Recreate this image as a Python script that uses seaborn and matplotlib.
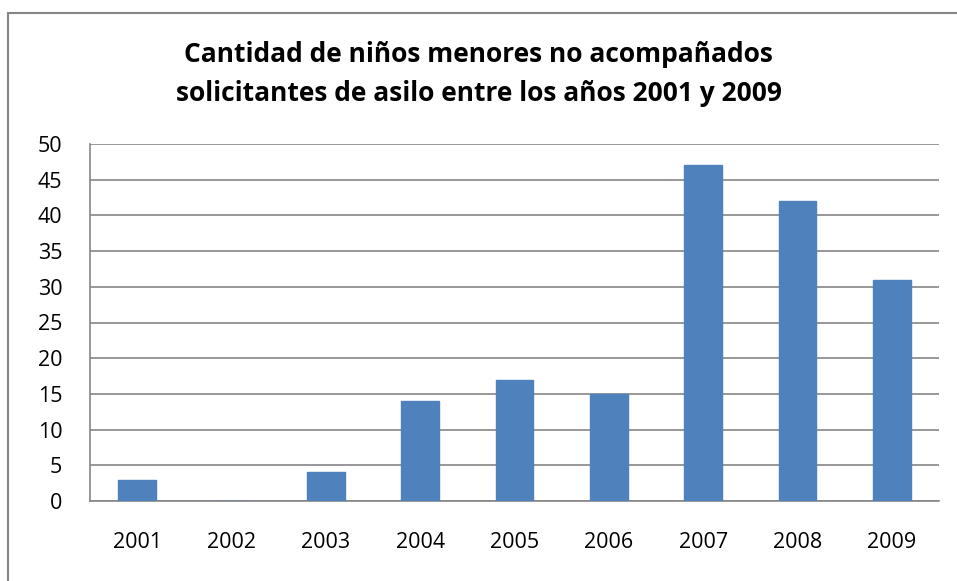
import matplotlib
matplotlib.use("Agg")
import matplotlib.pyplot as plt
import seaborn as sns
import pandas as pd
from matplotlib.lines import Line2D

years = ["2001", "2002", "2003", "2004", "2005", "2006", "2007", "2008", "2009"]
counts = [3, 0, 4, 14, 17, 15, 47, 42, 31]
yticks = [0, 5, 10, 15, 20, 25, 30, 35, 40, 45, 50]
title = "Cantidad de niños menores no acompañados\nsolicitantes de asilo entre los años 2001 y 2009"

df = pd.DataFrame({"year": years, "count": counts})

sns.set_style("white")
plt.rcParams["font.family"] = ["Open Sans", "DejaVu Sans"]
plt.rcParams["text.color"] = "black"
plt.rcParams["xtick.color"] = "black"
plt.rcParams["ytick.color"] = "black"

fig = plt.figure(figsize=(9.57, 5.81), dpi=100)
ax = fig.add_axes([90/957, 1-501/581, (939-90)/957, (501-144)/581])

grid_c = "#868686"
sns.barplot(data=df, x="year", y="count", color="#4F81BD", saturation=1,
            width=0.4, ax=ax, zorder=3, edgecolor="#4F81BD")

ax.set_ylim(0, 50)
ax.set_xlim(-0.5, len(years) - 0.5)
ax.set_yticks(yticks)
ax.set_yticklabels([str(v) for v in yticks], fontsize=15.5)
ax.yaxis.grid(True, color=grid_c, linewidth=1.2, zorder=0)
ax.set_axisbelow(True)

# category boundary ticks on x axis
ax.set_xticks([i - 0.5 for i in range(len(years) + 1)], minor=False)
ax.set_xticklabels([""] * (len(years) + 1))
ax.set_xticks(range(len(years)), minor=True)
ax.set_xticklabels(years, minor=True, fontsize=15.5)
ax.tick_params(axis="x", which="major", length=6, width=1.2, color=grid_c, direction="out")
ax.tick_params(axis="x", which="minor", length=0, pad=22, labelcolor="black")
ax.tick_params(axis="y", length=9, width=1.2, color=grid_c, direction="out", pad=11,
               labelcolor="black")

for s in ["top", "right"]:
    ax.spines[s].set_visible(False)
for s in ["left", "bottom"]:
    ax.spines[s].set_color(grid_c)
    ax.spines[s].set_linewidth(1.2)
ax.set_xlabel("")
ax.set_ylabel("")

fig.text(0.5, 1 - 74/581, title, ha="center", va="center", fontsize=19,
         fontweight="bold", linespacing=1.55, color="black")

# chart area border (top and left visible, the rest cropped)
fig.add_artist(Line2D([8/957, 1.0], [1 - 13/581, 1 - 13/581], transform=fig.transFigure,
                      color=grid_c, linewidth=1.5))
fig.add_artist(Line2D([8/957, 8/957], [0.0, 1 - 13/581], transform=fig.transFigure,
                      color=grid_c, linewidth=1.5))

fig.savefig("out.png", dpi=100)
